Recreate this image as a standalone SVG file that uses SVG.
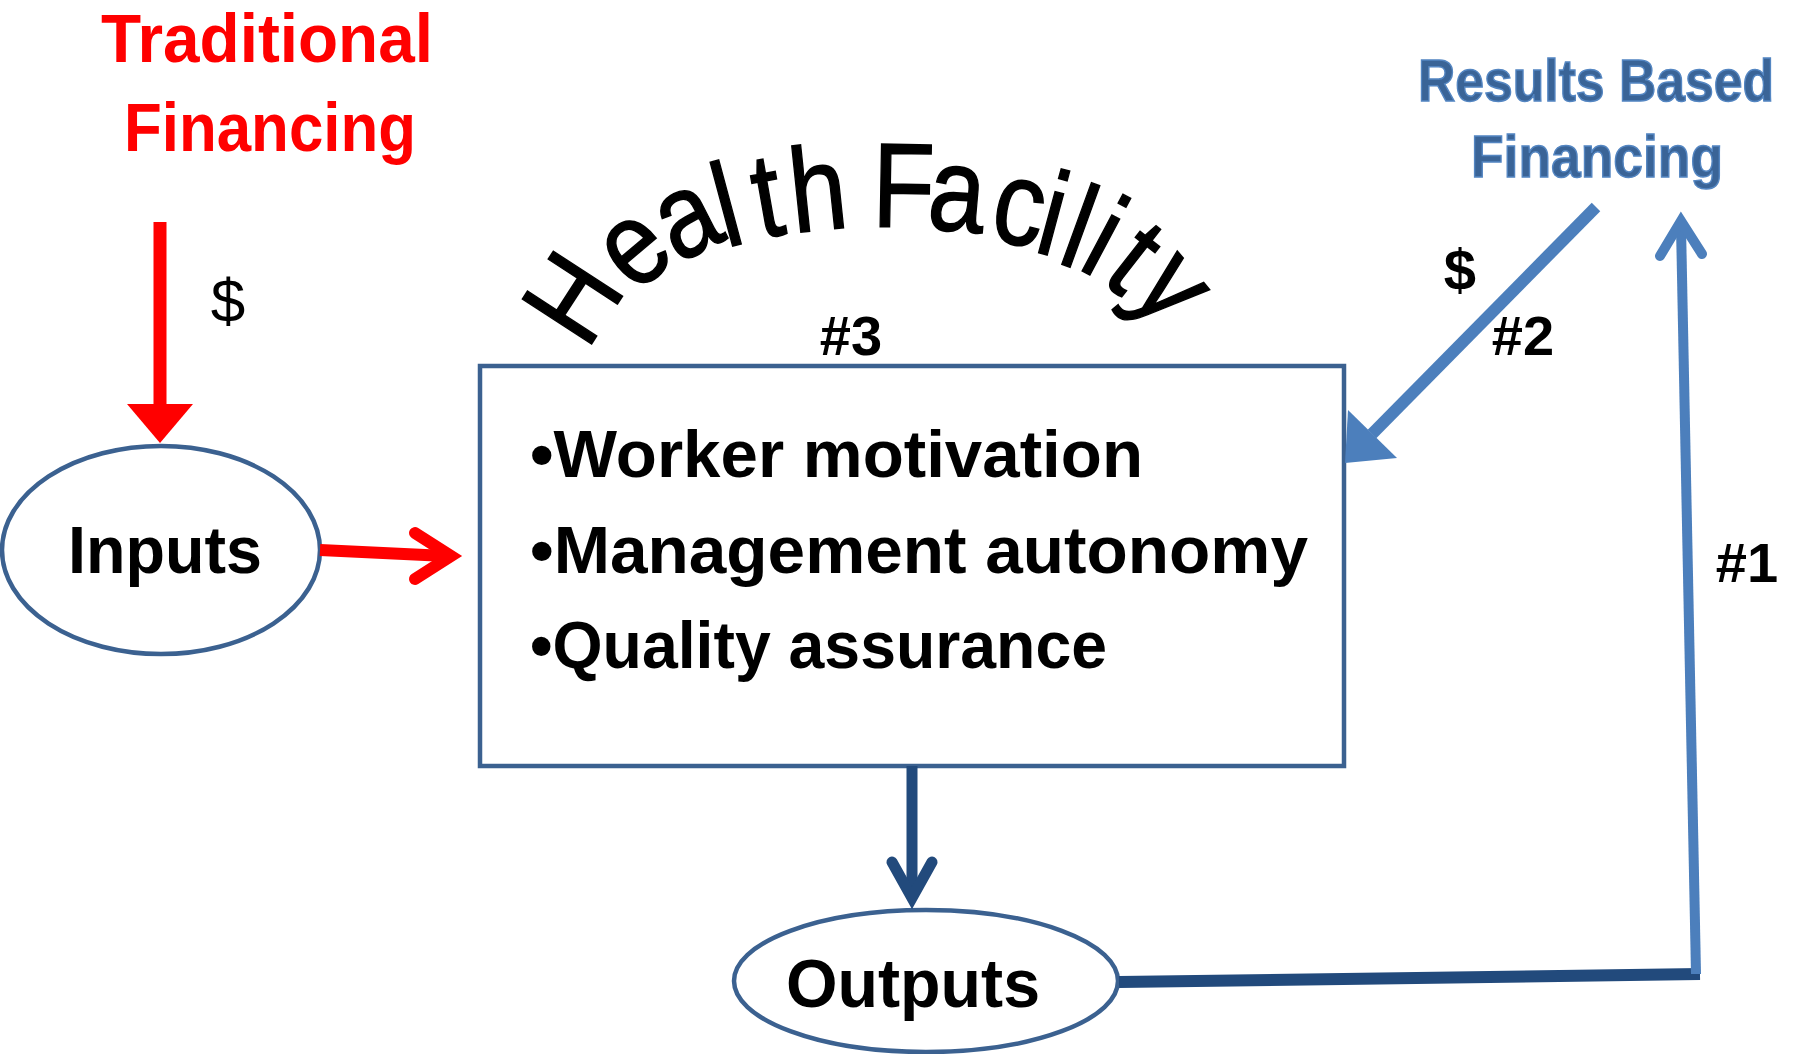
<svg xmlns="http://www.w3.org/2000/svg" width="1799" height="1054" viewBox="0 0 1799 1054">
  <style>
    .bold { font-family: "Liberation Sans", Arial, sans-serif; font-weight: bold; }
    .reg { font-family: "Liberation Sans", Arial, sans-serif; font-weight: normal; }
    .arch { font-family: "Liberation Sans", Arial, sans-serif; font-weight: normal; font-size: 120px; fill: #000000; stroke: #000000; stroke-width: 1.5; text-anchor: middle; }
    .outline { fill: #ffffff; stroke: #3b6190; stroke-width: 4.5; }
    .red-line { stroke: #ff0000; fill: none; }
    .dark-line { stroke: #224a7c; fill: none; }
    .light-line { stroke: #4c7fbc; fill: none; }
    .chev { stroke-linecap: round; stroke-linejoin: miter; stroke-miterlimit: 10; }
    .label { fill: #000000; }
    .rbf { fill: #3a6497; stroke: #5486c2; stroke-width: 1.5; }
  </style>

  <rect width="1799" height="1054" fill="#ffffff"/>

  <!-- funding sources -->
  <g id="traditional-financing">
    <text class="bold" fill="#ff0000" font-size="68" text-anchor="middle" x="267" y="62" textLength="332" lengthAdjust="spacingAndGlyphs">Traditional</text>
    <text class="bold" fill="#ff0000" font-size="68" text-anchor="middle" x="270" y="151" textLength="292" lengthAdjust="spacingAndGlyphs">Financing</text>
  </g>

  <g id="results-based-financing">
    <text class="bold rbf" font-size="59" text-anchor="middle" x="1596" y="101" textLength="356" lengthAdjust="spacingAndGlyphs">Results Based</text>
    <text class="bold rbf" font-size="59" text-anchor="middle" x="1597" y="177" textLength="252" lengthAdjust="spacingAndGlyphs">Financing</text>
  </g>

  <!-- health facility title, one glyph per position along the arch -->
  <g id="health-facility-title">
    <text class="arch" transform="translate(607,320) rotate(-57) scale(0.85,1)">H</text>
    <text class="arch" transform="translate(657,276) rotate(-40) scale(0.85,1)">e</text>
    <text class="arch" transform="translate(703,251) rotate(-27) scale(0.85,1)">a</text>
    <text class="arch" transform="translate(737,245) rotate(-15) scale(0.85,1)">l</text>
    <text class="arch" transform="translate(774,236) rotate(-10) scale(0.85,1)">t</text>
    <text class="arch" transform="translate(822,230) rotate(-6) scale(0.85,1)">h</text>
    <text class="arch" transform="translate(903,227) rotate(1) scale(0.85,1)">F</text>
    <text class="arch" transform="translate(954,231) rotate(5) scale(0.85,1)">a</text>
    <text class="arch" transform="translate(1013,244) rotate(10) scale(0.85,1)">c</text>
    <text class="arch" transform="translate(1043,254) rotate(15) scale(0.85,1)">i</text>
    <text class="arch" transform="translate(1066,266) rotate(20) scale(0.85,1)">l</text>
    <text class="arch" transform="translate(1086,273) rotate(28) scale(0.85,1)">i</text>
    <text class="arch" transform="translate(1111,289) rotate(38) scale(0.85,1)">t</text>
    <text class="arch" transform="translate(1145,311) rotate(50) scale(0.85,1)">y</text>
    <text class="bold label" font-size="56" text-anchor="middle" x="851" y="355">#3</text>
  </g>

  <!-- nodes -->
  <g id="inputs">
    <ellipse class="outline" cx="161" cy="550" rx="159" ry="104"/>
    <text class="bold label" font-size="66" text-anchor="middle" x="165" y="573" textLength="194" lengthAdjust="spacingAndGlyphs">Inputs</text>
  </g>

  <g id="health-facility">
    <rect class="outline" x="480" y="366" width="864" height="400"/>
    <text class="bold label" font-size="66" x="530" y="477" textLength="613" lengthAdjust="spacingAndGlyphs">•Worker motivation</text>
    <text class="bold label" font-size="66" x="530" y="573" textLength="778" lengthAdjust="spacingAndGlyphs">•Management autonomy</text>
    <text class="bold label" font-size="66" x="530" y="668" textLength="577" lengthAdjust="spacingAndGlyphs">•Quality assurance</text>
  </g>

  <g id="outputs">
    <ellipse class="outline" cx="926" cy="981" rx="192" ry="71"/>
    <text class="bold label" font-size="68" text-anchor="middle" x="913" y="1007" textLength="254" lengthAdjust="spacingAndGlyphs">Outputs</text>
  </g>

  <!-- connectors -->
  <g id="connectors">
    <!-- traditional financing into inputs -->
    <line class="red-line" x1="160" y1="222" x2="160" y2="406" stroke-width="13"/>
    <polygon points="127,404 193,404 160,443" fill="#ff0000"/>

    <!-- inputs into the facility -->
    <line class="red-line" x1="320" y1="550" x2="446" y2="556" stroke-width="12"/>
    <path class="red-line chev" d="M 415,533 L 451,556 L 415,579" stroke-width="12"/>

    <!-- facility to outputs -->
    <line class="dark-line" x1="912" y1="766" x2="912" y2="892" stroke-width="11"/>
    <path class="dark-line chev" d="M 892,862 L 912,898 L 932,862" stroke-width="11"/>

    <!-- outputs back to results based financing (#1) -->
    <line class="dark-line" x1="1119" y1="982" x2="1700" y2="974" stroke-width="12"/>
    <line class="light-line" x1="1696" y1="974" x2="1681" y2="226" stroke-width="10"/>
    <path class="light-line chev" d="M 1660,256 L 1681,221 L 1702,254" stroke-width="10"/>

    <!-- results based financing payment into the facility (#2) -->
    <line class="light-line" x1="1596" y1="207" x2="1372" y2="434" stroke-width="12"/>
    <polygon points="1348,410 1397,458 1345,463" fill="#4c7fbc"/>
  </g>

  <!-- connector labels -->
  <g id="labels">
    <text class="reg label" font-size="62" text-anchor="middle" x="228" y="322">$</text>
    <text class="bold label" font-size="58" text-anchor="middle" x="1460" y="290">$</text>
    <text class="bold label" font-size="56" text-anchor="middle" x="1523" y="355">#2</text>
    <text class="bold label" font-size="56" text-anchor="middle" x="1747" y="582">#1</text>
  </g>
</svg>
